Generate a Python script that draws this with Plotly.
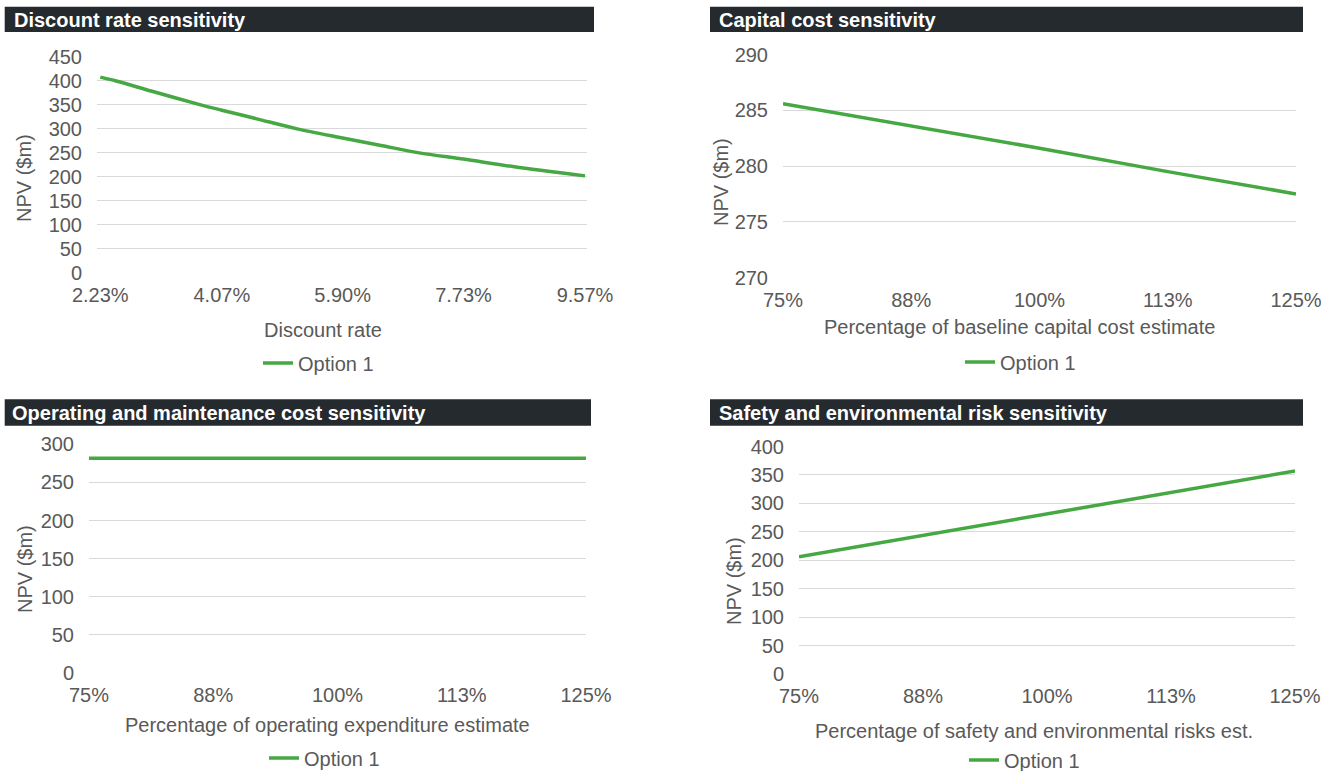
import plotly.graph_objects as go

W, H = 1333, 771

# ---------------- data ----------------
discount_rates = [2.23, 2.47, 3.0, 3.75, 4.07, 4.6, 5.21, 5.90, 6.5, 7.06, 7.73, 8.5, 9.57]
npv_discount = [408, 400, 379, 350, 339, 321, 300, 281, 265, 250, 237, 221, 202]
discount_ticks = [2.23, 4.07, 5.90, 7.73, 9.57]
discount_ticktext = ["2.23%", "4.07%", "5.90%", "7.73%", "9.57%"]

pct = [75, 87.5, 100, 112.5, 125]
pct_ticktext = ["75%", "88%", "100%", "113%", "125%"]
npv_capital = [285.6, 283.6, 281.6, 279.5, 277.5]
npv_opex = [281.6, 281.6, 281.6, 281.6, 281.6]
npv_safety = [206, 243.5, 281.6, 319, 357]

series_name = "Option 1"
titles = ["Discount rate sensitivity", "Capital cost sensitivity",
          "Operating and maintenance cost sensitivity", "Safety and environmental risk sensitivity"]
xtitles = ["Discount rate", "Percentage of baseline capital cost estimate",
           "Percentage of operating expenditure estimate",
           "Percentage of safety and environmental risks est."]
ytitle = "NPV ($m)"

# ---------------- style ----------------
FONT = "Liberation Sans, Arial, sans-serif"
GREY = "#595959"
GRID = "#d9d9d9"
GREEN = "#46a843"
BAR = "#252a2f"


def px(x):
    return x / W


def py(y):
    return 1 - y / H


fig = go.Figure()

panels = [
    dict(x=discount_rates, y=npv_discount, xr=[2.18, 9.60], tv=discount_ticks, tt=discount_ticktext,
         yr=[0, 450], dt=50, dom_x=(97, 587), dom_y=(57, 272.7), shape="spline"),
    dict(x=pct, y=npv_capital, xr=[75, 125], tv=pct, tt=pct_ticktext,
         yr=[270, 290], dt=5, dom_x=(783, 1296), dom_y=(54.6, 277.5), shape="linear"),
    dict(x=pct, y=npv_opex, xr=[75, 125], tv=pct, tt=pct_ticktext,
         yr=[0, 300], dt=50, dom_x=(89, 586), dom_y=(444.3, 673), shape="linear"),
    dict(x=pct, y=npv_safety, xr=[75, 125], tv=pct, tt=pct_ticktext,
         yr=[0, 400], dt=50, dom_x=(799, 1295), dom_y=(446.5, 674), shape="linear"),
]

bars = [(4.7, 6.7, 594, 32), (710, 6.7, 1303, 32), (4.7, 399.3, 591, 425.7), (710, 399.3, 1303, 425.7)]
title_pos = [(12, 20), (717, 20), (10, 413), (717, 413)]
xtitle_pos = [(323, 330), (1019, 327), (327, 725), (1034, 730.5)]
ytitle_pos = [(24, 178), (721, 182), (25, 569), (734, 581)]
legend_pos = [(266, 363), (968, 362), (272, 758), (972, 760)]

shapes = []
annotations = []

for i, p in enumerate(panels):
    k = "" if i == 0 else str(i + 1)
    lg = "legend" if i == 0 else "legend" + str(i + 1)
    line = dict(color=GREEN, width=3.5, shape=p["shape"])
    if p["shape"] == "spline":
        line["smoothing"] = 0.8
    fig.add_trace(go.Scatter(
        x=p["x"], y=p["y"], mode="lines", name=series_name,
        line=line,
        xaxis="x" + k, yaxis="y" + k, legend=lg, showlegend=True))

    fig.layout["xaxis" + k] = dict(
        domain=[px(p["dom_x"][0]), px(p["dom_x"][1])], anchor="y" + k,
        range=p["xr"], tickmode="array", tickvals=p["tv"], ticktext=p["tt"],
        showgrid=False, zeroline=False, showline=False, ticks="",
        ticklabelstandoff=8,
        tickfont=dict(family=FONT, size=20, color=GREY))
    fig.layout["yaxis" + k] = dict(
        domain=[py(p["dom_y"][1]), py(p["dom_y"][0])], anchor="x" + k,
        range=p["yr"], dtick=p["dt"], tick0=0,
        showgrid=True, gridcolor=GRID, gridwidth=1, zeroline=False, showline=False,
        ticks="", ticklabelstandoff=14,
        tickfont=dict(family=FONT, size=20, color=GREY))

    x0, y0, x1, y1 = bars[i]
    shapes.append(dict(type="rect", xref="paper", yref="paper",
                       x0=px(x0), x1=px(x1), y0=py(y1), y1=py(y0),
                       fillcolor=BAR, line=dict(width=0), layer="below"))
    tx, ty = title_pos[i]
    annotations.append(dict(text="<b>" + titles[i] + "</b>", xref="paper", yref="paper",
                            x=px(tx), y=py(ty), xanchor="left", yanchor="middle",
                            showarrow=False, font=dict(family=FONT, size=20, color="white")))
    ax_, ay_ = xtitle_pos[i]
    annotations.append(dict(text=xtitles[i], xref="paper", yref="paper",
                            x=px(ax_), y=py(ay_), xanchor="center", yanchor="middle",
                            showarrow=False, font=dict(family=FONT, size=20, color=GREY)))
    yx, yy = ytitle_pos[i]
    annotations.append(dict(text=ytitle, xref="paper", yref="paper", textangle=-90,
                            x=px(yx), y=py(yy), xanchor="center", yanchor="middle",
                            showarrow=False, font=dict(family=FONT, size=20, color=GREY)))
    lx, ly = legend_pos[i]
    fig.layout[lg] = dict(x=px(lx - 8), y=py(ly), xanchor="left", yanchor="middle",
                          bgcolor="rgba(0,0,0,0)", borderwidth=0,
                          font=dict(family=FONT, size=20, color=GREY),
                          itemwidth=30, tracegroupgap=0)

fig.update_layout(
    width=W, height=H, margin=dict(l=0, r=0, t=0, b=0, pad=0, autoexpand=False),
    paper_bgcolor="white", plot_bgcolor="white",
    shapes=shapes, annotations=annotations,
    font=dict(family=FONT, size=20, color=GREY),
)

fig.write_html("out.html")
